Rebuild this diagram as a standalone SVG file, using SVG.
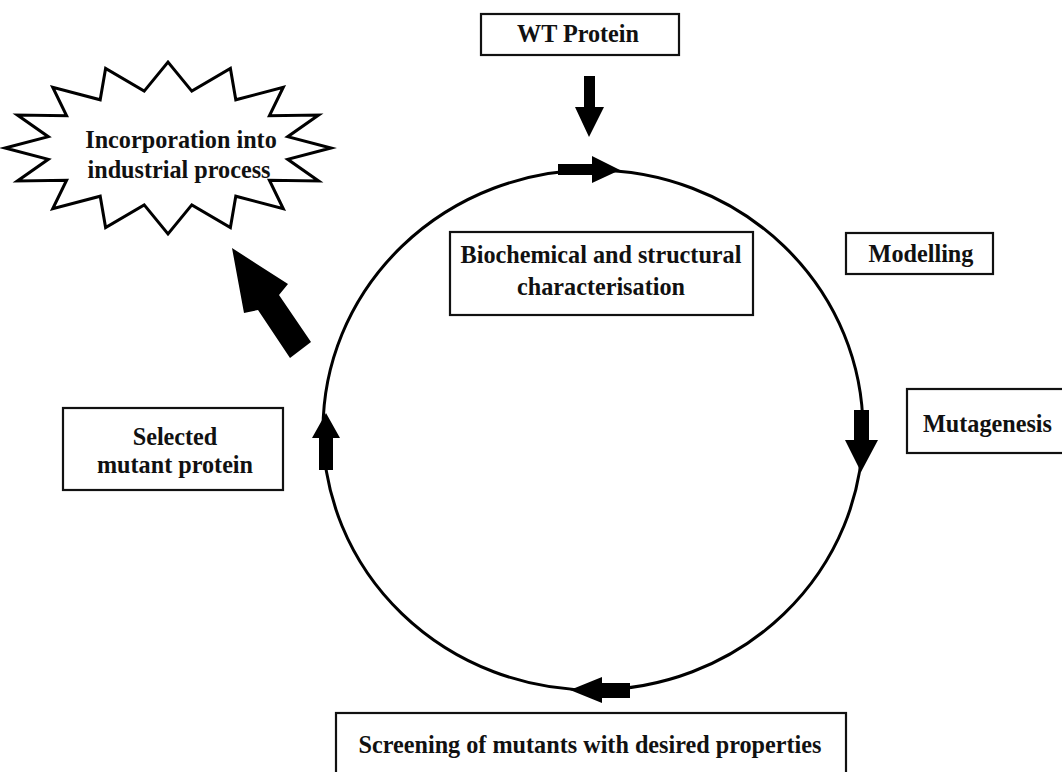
<svg xmlns="http://www.w3.org/2000/svg" width="1062" height="772" viewBox="0 0 1062 772">
<style>
.box{fill:#fff;stroke:#111;stroke-width:2.2}
.lbl{font-family:"Liberation Serif","Times New Roman",serif;font-weight:bold;font-size:24.2px;fill:#111}
.c{text-anchor:middle}
.arr{fill:#000;stroke:none}
.cyc{fill:none;stroke:#000;stroke-width:3}
</style>
<rect width="1062" height="772" fill="#fff"/>
<g id="connectors">
<ellipse class="cyc" cx="593" cy="430" rx="270" ry="260"/>
<polygon class="arr" points="584,76 595,76 595,107 604,107 589,137 575,107 584,107"/>
<polygon class="arr" points="558,164 592,164 592,156 620,170 592,183 592,175 558,175"/>
<polygon class="arr" points="854,410 869,410 869,440 878,440 861,472 845,440 854,440"/>
<polygon class="arr" points="630,683 602,683 602,677 570,690 602,703 602,698 630,698"/>
<polygon class="arr" points="319,470 333,470 333,438 340,438 326,413 312,438 319,438"/>
<polygon class="arr" points="232,248 288,284 279,295 311,342 290,358 258,310 244,313"/>
</g>
<g id="wt-protein">
<rect class="box" x="481" y="14" width="198" height="41"/>
<text class="lbl c" x="578" y="42">WT Protein</text>
</g>
<g id="incorporation">
<polygon fill="#fff" stroke="#000" stroke-width="3" stroke-linejoin="miter" points="331,148 287.7,159.3 318.6,180.9 269.4,180.2 283.3,208.8 235.8,196.2 230.4,227.5 191.8,204.9 168,234 144.2,204.9 105.6,227.5 100.2,196.2 52.7,208.8 66.6,180.2 17.4,180.9 48.3,159.3 5,148 48.3,136.7 17.4,115.1 66.6,115.8 52.7,87.2 100.2,99.8 105.6,68.5 144.2,91.1 168,62 191.8,91.1 230.4,68.5 235.8,99.8 283.3,87.2 269.4,115.8 318.6,115.1 287.7,136.7"/>
<text class="lbl c" x="181" y="148">Incorporation into</text>
<text class="lbl c" x="179" y="178">industrial process</text>
</g>
<g id="characterisation">
<rect class="box" x="450" y="232" width="303" height="83"/>
<text class="lbl c" x="601" y="263">Biochemical and structural</text>
<text class="lbl c" x="601" y="295">characterisation</text>
</g>
<g id="modelling">
<rect class="box" x="846" y="233" width="147" height="41"/>
<text class="lbl c" x="921" y="262">Modelling</text>
</g>
<g id="mutagenesis">
<rect class="box" x="907" y="389" width="170" height="64"/>
<text class="lbl" x="923" y="432">Mutagenesis</text>
</g>
<g id="selected">
<rect class="box" x="63" y="408" width="220" height="82"/>
<text class="lbl c" x="175" y="445">Selected</text>
<text class="lbl c" x="175" y="473">mutant protein</text>
</g>
<g id="screening">
<rect class="box" x="336" y="713" width="510" height="70"/>
<text class="lbl c" x="590" y="753">Screening of mutants with desired properties</text>
</g>
</svg>
